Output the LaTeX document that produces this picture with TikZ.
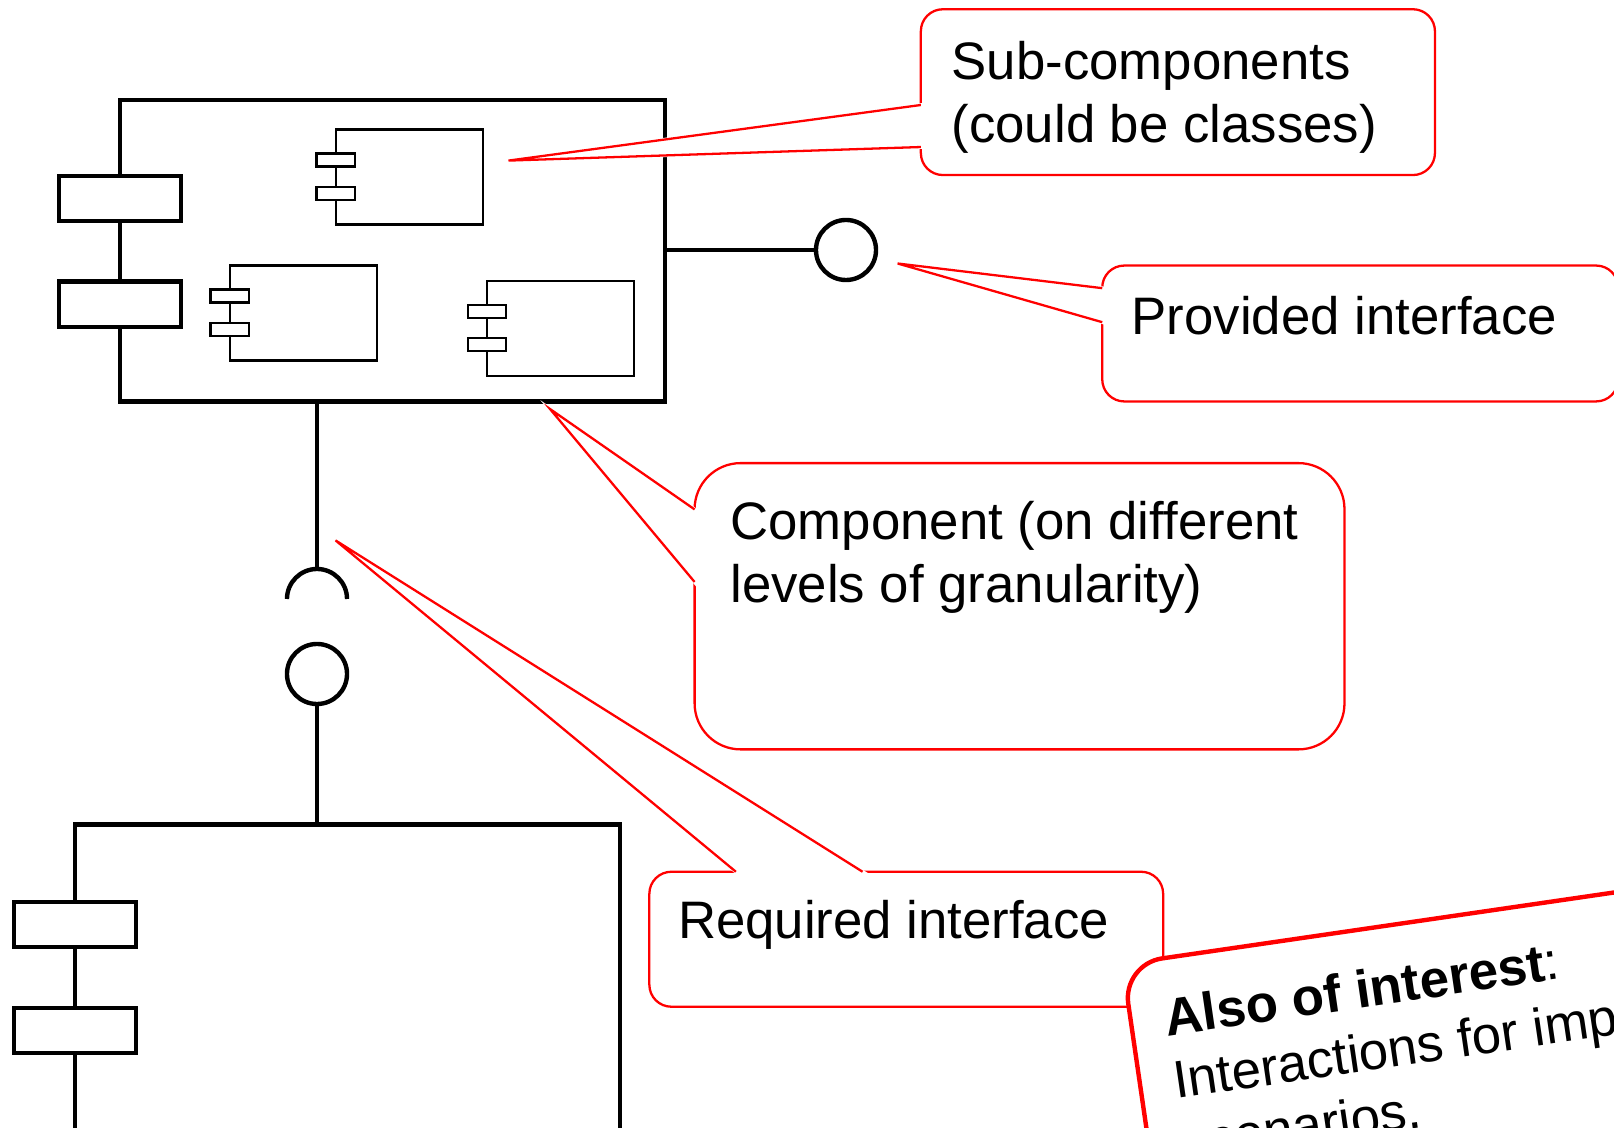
\documentclass[tikz,border=0pt]{standalone}
\usepackage{fontspec}
\setmainfont{Liberation Sans}
\tikzset{
  comp/.style={draw, line width=1.25pt, fill=white, inner sep=0pt, outer sep=0pt},
  port/.style={draw, line width=1.25pt, fill=white, minimum width=1.225cm, minimum height=0.45cm, inner sep=0pt, outer sep=0pt},
  subbox/.style={draw, line width=0.6pt, fill=white, minimum width=1.47cm, minimum height=0.95cm, inner sep=0pt, outer sep=0pt},
  subport/.style={draw, line width=0.6pt, fill=white, minimum width=0.38cm, minimum height=0.13cm, inner sep=0pt, outer sep=0pt},
  ball/.style={circle, draw, line width=1.25pt, minimum size=0.6cm, inner sep=0pt, outer sep=0pt},
  wire/.style={line width=1.25pt},
  note/.style={draw=red, line width=0.65pt, fill=white, rounded corners=0.22cm, inner sep=0pt, outer sep=0pt},
  tail/.style={draw=red, line width=0.65pt},
  notetext/.style={anchor=base west, align=left, inner sep=0pt, font=\fontsize{15}{18}\selectfont}
}
\begin{document}
\begin{tikzpicture}[x=0.01cm, y=-0.01cm]
\useasboundingbox (0,0) rectangle (1614,1128);
\clip (0,0) rectangle (1614,1128);

% components
\node[comp, minimum width=5.446cm, minimum height=3.016cm] (main) at (392.7,250.6) {};
\node[port] (mainp1) at (120,198.7) {};
\node[port] (mainp2) at (120,304.2) {};
\node[comp, minimum width=5.446cm, minimum height=3.2cm] (lower) at (347.3,984.5) {};
\node[port] (lowerp1) at (75,924.4) {};
\node[port] (lowerp2) at (75,1030.4) {};

% sub-components
\foreach \n/\pos in {a/{409.1,177}, b/{303.1,313}, c/{560.5,328.4}} {
  \node[subbox] (sub\n) at (\pos) {};
  \node[subport] (sub\n p1) at ([yshift=0.17cm]sub\n.west) {};
  \node[subport] (sub\n p2) at ([yshift=-0.165cm]sub\n.west) {};
}

% interfaces
\node[ball] (provball) at (846,250) {};
\draw[wire] (main.east |- provball) -- (provball.west);
\coordinate (socket) at (317,599);
\draw[wire] (main.south -| socket) -- ([yshift=0.3cm]socket);
\draw[wire] ([xshift=-0.3cm]socket) arc[start angle=180, end angle=0, radius=0.3cm];
\node[ball] (reqball) at (317,674) {};
\draw[wire] (reqball.south) -- (reqball.south |- lower.north);

% callouts
\node[note, minimum width=5.138cm, minimum height=1.657cm] (subnote) at (1177.9,92.15) {};
\coordinate (subtip) at (508.5,160.6);
\filldraw[white, line width=1pt] ([yshift=-0.957cm]subnote.north west) -- (subtip) -- ([yshift=-1.377cm]subnote.north west) -- cycle;
\draw[tail] ([yshift=-0.957cm]subnote.north west) -- (subtip) -- ([yshift=-1.377cm]subnote.north west);
\node[notetext] (subtext) at (951,142.5) {Sub-components\\(could be classes)};

\node[note, minimum width=5.156cm, minimum height=1.358cm] (provnote) at (1360.2,333.5) {};
\coordinate (provtip) at (897.6,263.5);
\filldraw[white, line width=1pt] ([yshift=-0.226cm]provnote.north west) -- (provtip) -- ([yshift=-0.566cm]provnote.north west) -- cycle;
\draw[tail] ([yshift=-0.226cm]provnote.north west) -- (provtip) -- ([yshift=-0.566cm]provnote.north west);
\node[notetext] (provtext) at (1131,334.5) {Provided interface};

\node[note, rounded corners=0.46cm, minimum width=6.495cm, minimum height=2.861cm] (compnote) at (1019.55,606.25) {};
\coordinate (comptip) at (550,409);
\filldraw[white, line width=1pt] ([yshift=-0.463cm]compnote.north west) -- (comptip) -- ([yshift=-1.188cm]compnote.north west) -- cycle;
\draw[tail] ([yshift=-0.463cm]compnote.north west) -- (comptip) -- ([yshift=-1.188cm]compnote.north west);
\node[notetext] (comptext) at (729.8,602.6) {Component (on different\\levels of granularity)};

\node[note, minimum width=5.135cm, minimum height=1.349cm] (reqnote) at (906.25,939.25) {};
\coordinate (reqtip) at (335.5,540.4);
\filldraw[white, line width=1pt] ([xshift=0.865cm]reqnote.north west) -- (reqtip) -- ([xshift=2.131cm]reqnote.north west) -- cycle;
\draw[tail] ([xshift=0.865cm]reqnote.north west) -- (reqtip) -- ([xshift=2.131cm]reqnote.north west);
\node[notetext] (reqtext) at (677.3,938.7) {Required interface};

% tilted note
\begin{scope}[shift={(1122.5,964.2)}, rotate=8.3]
\node[note, line width=1.25pt, rounded corners=0.4cm, transform shape, anchor=north west, minimum width=7cm, minimum height=4cm] (alsonote) at (0,0) {};
\node[notetext, transform shape] (alsotext) at (33,204.4) {\textbf{Also of interest}:\\Interactions for important\\scenarios.};
\end{scope}
\end{tikzpicture}
\end{document}
